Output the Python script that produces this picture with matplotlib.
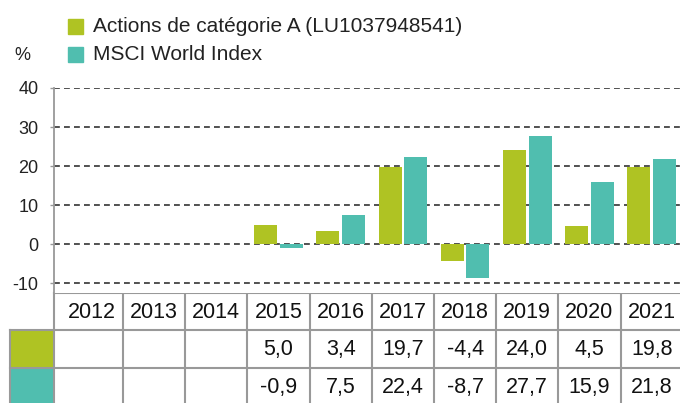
import matplotlib
matplotlib.use("Agg")
import matplotlib.pyplot as plt
import matplotlib.transforms as mtransforms
from matplotlib.patches import Rectangle
import numpy as np

plt.rcParams['font.family'] = ['Liberation Sans', 'DejaVu Sans']

years = ["2012", "2013", "2014", "2015", "2016", "2017", "2018", "2019", "2020", "2021"]
fund = [None, None, None, 5.0, 3.4, 19.7, -4.4, 24.0, 4.5, 19.8]
index = [None, None, None, -0.9, 7.5, 22.4, -8.7, 27.7, 15.9, 21.8]
labels = ["Actions de catégorie A (LU1037948541)", "MSCI World Index"]
yticks = [-10, 0, 10, 20, 30, 40]

c_fund = "#AFC323"
c_index = "#50BEAF"
grid_c = "#999999"

W, H = 680, 403
fig = plt.figure(figsize=(W / 100, H / 100), dpi=100)

# pixel overlay axes
axp = fig.add_axes([0, 0, 1, 1])
axp.set_xlim(0, W)
axp.set_ylim(H, 0)
axp.axis("off")

left_px, right_px, top_px, bot_px = 54, 680, 88, 293
ax = fig.add_axes([left_px / W, (H - bot_px) / H, (right_px - left_px) / W, (bot_px - top_px) / H])
col_w = 62.2
x0 = -0.5 - (278.5 - 3.5 * col_w - left_px) / col_w
x1 = x0 + (right_px - left_px) / col_w
ax.set_xlim(x0, x1)
ax.set_ylim(-12.56, 40)

bw = 0.37
off = 0.205
for i, (f, m) in enumerate(zip(fund, index)):
    if f is not None:
        ax.bar(i - off, f, width=bw, color=c_fund, zorder=3)
    if m is not None:
        ax.bar(i + off, m, width=bw, color=c_index, zorder=3)

for t in yticks:
    ax.axhline(t, color="#333333", lw=1.2, ls=(0, (3.5, 2.5)), zorder=1)
ax.set_yticks(yticks)
ax.set_yticklabels([str(t) for t in yticks], fontsize=13, color="#222222")
ax.tick_params(axis="y", length=3, width=1, color="#999999", pad=8)
ax.set_xticks([])
for s in ["top", "right", "bottom"]:
    ax.spines[s].set_visible(False)
ax.spines["left"].set_color(grid_c)
ax.spines["left"].set_linewidth(1.3)

# table
tr = mtransforms.blended_transform_factory(ax.transData, axp.transData)
n = len(years)
bounds = [x0] + [i + 0.5 for i in range(n)]
row_y = [293, 330, 368, 403]
lw = 1.5
axp.plot([left_px, W], [row_y[0], row_y[0]], color=grid_c, lw=lw, clip_on=False)
for yy in row_y[1:3]:
    axp.plot([10, W], [yy, yy], color=grid_c, lw=lw, clip_on=False)
for b in bounds:
    axp.plot([b, b], [row_y[0], H], color=grid_c, lw=lw, transform=tr, clip_on=False)
axp.plot([10, 10], [row_y[1], H], color=grid_c, lw=lw)
axp.add_patch(Rectangle((10.7, row_y[1] + 0.7), left_px - 11.4, row_y[2] - row_y[1] - 1.4, color=c_fund, zorder=0))
axp.add_patch(Rectangle((10.7, row_y[2] + 0.7), left_px - 11.4, H - row_y[2], color=c_index, zorder=0))

def fmt(v):
    return "" if v is None else f"{v:.1f}".replace(".", ",")

fs = 15.5
for i, y in enumerate(years):
    axp.text(i, 312, y, transform=tr, ha="center", va="center", fontsize=fs, color="#111111")
    axp.text(i, 350, fmt(fund[i]), transform=tr, ha="center", va="center", fontsize=fs, color="#111111")
    axp.text(i, 388, fmt(index[i]), transform=tr, ha="center", va="center", fontsize=fs, color="#111111")

# legend
for k, (lab, c) in enumerate(zip(labels, [c_fund, c_index])):
    yc = 26.5 + k * 28
    axp.add_patch(Rectangle((68, yc - 7.5), 15, 15, color=c))
    axp.text(93, yc, lab, ha="left", va="center", fontsize=15, color="#222222")
axp.text(14, 55, "%", ha="left", va="center", fontsize=13, color="#222222")

fig.savefig("out.png", dpi=100)
